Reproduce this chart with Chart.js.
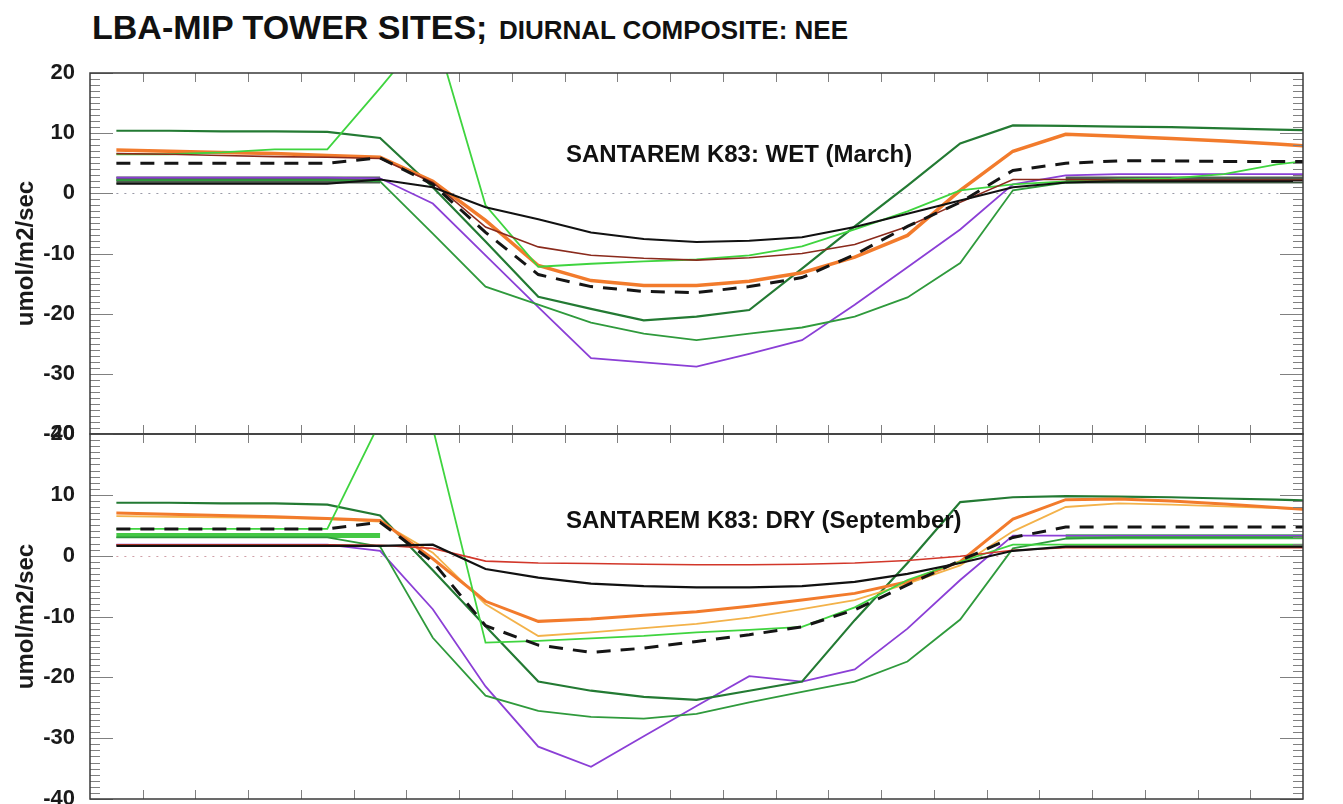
<!DOCTYPE html>
<html>
<head>
<meta charset="utf-8">
<script src="https://cdn.jsdelivr.net/npm/chart.js@4.4.1/dist/chart.umd.min.js"></script>
<style>
  html, body { margin: 0; padding: 0; background: #fff; overflow: hidden; }
  body { width: 1343px; height: 804px; position: relative; font-family: "Liberation Sans", Arial, Helvetica, sans-serif; }
  .title { position: absolute; left: 92px; top: 10px; font-weight: bold; font-size: 34px; line-height: 1; color: #111; white-space: nowrap; }
  .title span { font-size: 26px; margin-left: 2px; }
  .panel-label { position: absolute; left: 566px; font-weight: bold; font-size: 24px; line-height: 1; color: #111; white-space: nowrap; }
  canvas { position: absolute; left: 0; top: 0; }
</style>
</head>
<body>
<div class="title">LBA-MIP TOWER SITES; <span>DIURNAL COMPOSITE: NEE</span></div>
<canvas id="wet" width="1343" height="804"></canvas>
<canvas id="dry" width="1343" height="820"></canvas>
<div class="panel-label" style="top:142px">SANTAREM K83: WET (March)</div>
<div class="panel-label" style="top:508px">SANTAREM K83: DRY (September)</div>
<script>
// local hour (half-hour centres), x axis runs 0..23
const hours = [0.5, 1.5, 2.5, 3.5, 4.5, 5.5, 6.5, 7.5, 8.5, 9.5, 10.5, 11.5,
               12.5, 13.5, 14.5, 15.5, 16.5, 17.5, 18.5, 19.5, 20.5, 21.5, 22.5, 23.5];
const yTicks = [20, 10, 0, -10, -20, -30, -40];

// WET (March)
const wetBlack  = [1.6, 1.6, 1.6, 1.6, 1.6, 2.3, 1.0, -2.3, -4.3, -6.5, -7.6, -8.1, -7.9, -7.3, -5.6, -3.4, -1.2, 1.0, 1.8, 2.0, 2.0, 2.0, 2.0, 2.0];
const wetBrown  = [6.6, 6.5, 6.3, 6.1, 6.0, 5.8, 1.8, -5.6, -8.9, -10.3, -10.8, -11.1, -10.7, -10.0, -8.5, -5.5, -1.5, 2.3, 2.3, 2.2, 2.2, 2.2, 2.2, 2.2];
const wetOrange = [7.2, 7.0, 6.8, 6.6, 6.3, 6.0, 2.0, -4.5, -12.0, -14.5, -15.3, -15.3, -14.6, -13.2, -10.6, -7.0, 0.5, 7.0, 9.8, 9.5, 9.1, 8.7, 8.2, 7.6];
const wetDashed = [5.0, 5.0, 5.0, 5.0, 5.0, 5.9, 1.5, -6.5, -13.5, -15.5, -16.3, -16.5, -15.5, -14.0, -10.2, -5.5, -1.5, 3.8, 5.0, 5.4, 5.4, 5.3, 5.3, 5.3];
const wetDkGreen = [10.4, 10.4, 10.3, 10.3, 10.2, 9.2, 1.0, -8.0, -17.2, -19.2, -21.1, -20.5, -19.4, -12.5, -5.5, 1.3, 8.3, 11.3, 11.2, 11.1, 11.0, 10.8, 10.6, 10.4];
const wetGreen  = [2.2, 2.2, 2.2, 2.2, 2.2, 2.0, -6.7, -15.5, -18.5, -21.5, -23.3, -24.4, -23.3, -22.3, -20.5, -17.3, -11.6, 0.5, 1.8, 2.0, 2.0, 2.0, 2.0, 2.0];
const wetPurple = [2.6, 2.6, 2.6, 2.6, 2.6, 2.5, -1.7, -10.3, -18.9, -27.4, -28.1, -28.8, -26.7, -24.4, -18.5, -12.3, -6.0, 1.5, 3.0, 3.2, 3.2, 3.2, 3.2, 3.2];
const wetLtGreen = [6.5, 6.5, 6.8, 7.3, 7.3, 17.5, 28.0, -2.0, -12.2, -11.7, -11.3, -11.0, -10.3, -8.8, -6.0, -3.0, 0.5, 1.5, 2.0, 2.3, 2.5, 3.2, 4.8, 5.8];
const wetBand   = [2.2, 2.2, 2.2, 2.2, 2.2, 2.2, null, null, null, null, null, null, null, null, null, null, null, null, 2.2, 2.2, 2.2, 2.2, 2.2, 2.2];

// DRY (September)
const dryBlack  = [1.6, 1.6, 1.6, 1.6, 1.6, 1.6, 1.8, -2.2, -3.6, -4.6, -5.0, -5.2, -5.2, -5.0, -4.3, -3.0, -1.2, 0.8, 1.5, 1.5, 1.5, 1.5, 1.5, 1.5];
const dryRed    = [1.8, 1.8, 1.8, 1.8, 1.8, 1.7, 1.2, -0.9, -1.2, -1.3, -1.4, -1.5, -1.5, -1.4, -1.2, -0.8, -0.1, 0.9, 1.3, 1.3, 1.3, 1.3, 1.3, 1.3];
const dryOrange = [7.0, 6.8, 6.6, 6.4, 6.1, 5.8, -0.5, -7.5, -10.8, -10.4, -9.8, -9.2, -8.3, -7.3, -6.2, -4.3, -1.0, 6.0, 9.2, 9.3, 9.0, 8.5, 7.9, 7.4];
const dryLtOrange = [6.5, 6.4, 6.3, 6.2, 6.0, 5.6, 0.5, -8.0, -13.2, -12.6, -11.9, -11.2, -10.2, -8.8, -7.3, -4.6, -1.6, 4.0, 8.0, 8.6, 8.4, 8.1, 7.8, 7.5];
const dryDashed = [4.4, 4.4, 4.4, 4.4, 4.4, 5.5, -1.0, -11.5, -14.7, -15.9, -15.2, -14.1, -13.0, -11.7, -8.9, -4.8, -0.8, 3.0, 4.7, 4.7, 4.7, 4.7, 4.7, 4.7];
const dryDkGreen = [8.7, 8.7, 8.6, 8.6, 8.4, 6.6, -2.4, -11.6, -20.7, -22.2, -23.2, -23.7, -22.2, -20.7, -10.6, -1.2, 8.8, 9.6, 9.8, 9.7, 9.6, 9.4, 9.2, 9.0];
const dryGreen  = [3.0, 3.0, 3.0, 3.0, 3.0, 1.5, -13.5, -23.0, -25.5, -26.5, -26.8, -26.0, -24.1, -22.4, -20.7, -17.4, -10.5, 1.2, 2.8, 3.0, 3.0, 3.0, 3.0, 3.0];
const dryPurple = [1.8, 1.8, 1.8, 1.8, 1.8, 0.8, -8.8, -21.5, -31.4, -34.7, -29.7, -24.7, -19.8, -20.7, -18.7, -12.0, -4.0, 3.3, 3.3, 3.3, 3.3, 3.3, 3.3, 3.3];
const dryLtGreen = [4.4, 4.4, 4.4, 4.4, 4.4, 22.0, 21.0, -14.3, -14.0, -13.6, -13.2, -12.6, -12.2, -11.7, -8.5, -4.0, -1.0, 1.8, 1.8, 1.8, 1.8, 1.8, 1.8, 1.8];
const dryBand   = [3.3, 3.3, 3.3, 3.3, 3.3, 3.3, null, null, null, null, null, null, null, null, null, null, null, null, 3.1, 3.1, 3.1, 3.1, 3.1, 3.1];

const FONT = '"Liberation Sans", Arial, Helvetica, sans-serif';

function line(values, color, width, dash) {
  return {
    data: values.map((v, i) => ({ x: hours[i], y: v })),
    borderColor: color,
    borderWidth: width,
    borderDash: dash || [],
    pointRadius: 0,
    tension: 0,
    spanGaps: false,
    clip: 0
  };
}

// frame, inward ticks and the dotted zero line
const frame = {
  id: 'frame',
  beforeDatasetsDraw(chart, args, opts) {
    const { ctx, chartArea: a, scales: { x, y } } = chart;
    const y0 = Math.round(y.getPixelForValue(0)) + 0.5;
    ctx.save();
    ctx.strokeStyle = opts.zeroColor;
    ctx.lineWidth = 1.2;
    ctx.setLineDash([2, 6]);
    ctx.beginPath();
    ctx.moveTo(x.getPixelForValue(0.5), y0);
    ctx.lineTo(a.right, y0);
    ctx.stroke();
    ctx.restore();
  },
  afterDraw(chart) {
    const { ctx, chartArea: a, scales: { x, y } } = chart;
    ctx.save();
    ctx.strokeStyle = '#808080';
    ctx.lineWidth = 1;
    ctx.beginPath();
    for (let h = 1; h < 23; h++) {
      const px = Math.round(x.getPixelForValue(h)) + 0.5;
      ctx.moveTo(px, a.top); ctx.lineTo(px, a.top + 9);
      ctx.moveTo(px, a.bottom); ctx.lineTo(px, a.bottom - 9);
    }
    for (let v = -40; v <= 20; v++) {
      const py = Math.round(y.getPixelForValue(v)) + 0.5;
      const len = v % 10 === 0 ? 23 : 10;
      ctx.moveTo(a.left, py); ctx.lineTo(a.left + len, py);
      ctx.moveTo(a.right, py); ctx.lineTo(a.right - len, py);
    }
    ctx.stroke();
    ctx.strokeStyle = '#3a3a3a';
    ctx.lineWidth = 1.5;
    ctx.strokeRect(a.left, a.top, a.right - a.left, a.bottom - a.top);
    ctx.restore();
  }
};

function makeChart(id, datasets, padTop, padBottom, zeroColor) {
  return new Chart(document.getElementById(id), {
    type: 'line',
    data: { datasets },
    options: {
      responsive: false,
      animation: false,
      layout: { padding: { top: padTop, bottom: padBottom, left: 0, right: 40 } },
      scales: {
        x: { type: 'linear', min: 0, max: 23, display: false },
        y: {
          min: -40, max: 20,
          afterFit(s) { s.width = 90; },
          afterBuildTicks(s) { s.ticks = yTicks.map(v => ({ value: v })); },
          grid: { display: false },
          border: { display: false },
          ticks: { color: '#1a1a1a', padding: 7, font: { family: FONT, size: 22, weight: 'bold' } },
          title: {
            display: true, text: 'umol/m2/sec', color: '#1a1a1a',
            padding: { top: 12, bottom: 0 },
            font: { family: FONT, size: 24, weight: 'bold' }
          }
        }
      },
      plugins: { legend: { display: false }, tooltip: { enabled: false }, frame: { zeroColor } }
    },
    plugins: [frame]
  });
}

makeChart('wet', [
  line(wetDashed, '#151515', 3, [14, 10]),
  line(wetBlack, '#111111', 2),
  line(wetBrown, '#8a2a1c', 1.6),
  line(wetLtGreen, '#3fd43f', 1.8),
  line(wetOrange, '#f27b2c', 3.5),
  line(wetDkGreen, '#237a33', 2.2),
  line(wetGreen, '#2f9a3c', 1.8),
  line(wetPurple, '#8b3fd6', 1.8),
  line(wetBand, '#4f5e50', 7)
], 73, 370, '#9a9aa8');

makeChart('dry', [
  line(dryDashed, '#151515', 3, [14, 10]),
  line(dryBlack, '#111111', 2.2),
  line(dryRed, '#d2372a', 1.6),
  line(dryLtGreen, '#3fd43f', 1.8),
  line(dryOrange, '#f27b2c', 3),
  line(dryLtOrange, '#f3b24a', 1.8),
  line(dryDkGreen, '#237a33', 2.2),
  line(dryGreen, '#2f9a3c', 1.8),
  line(dryPurple, '#8b3fd6', 1.8),
  line(dryBand, '#45c845', 5)
], 434, 21, '#d0a0a8');
</script>
</body>
</html>
